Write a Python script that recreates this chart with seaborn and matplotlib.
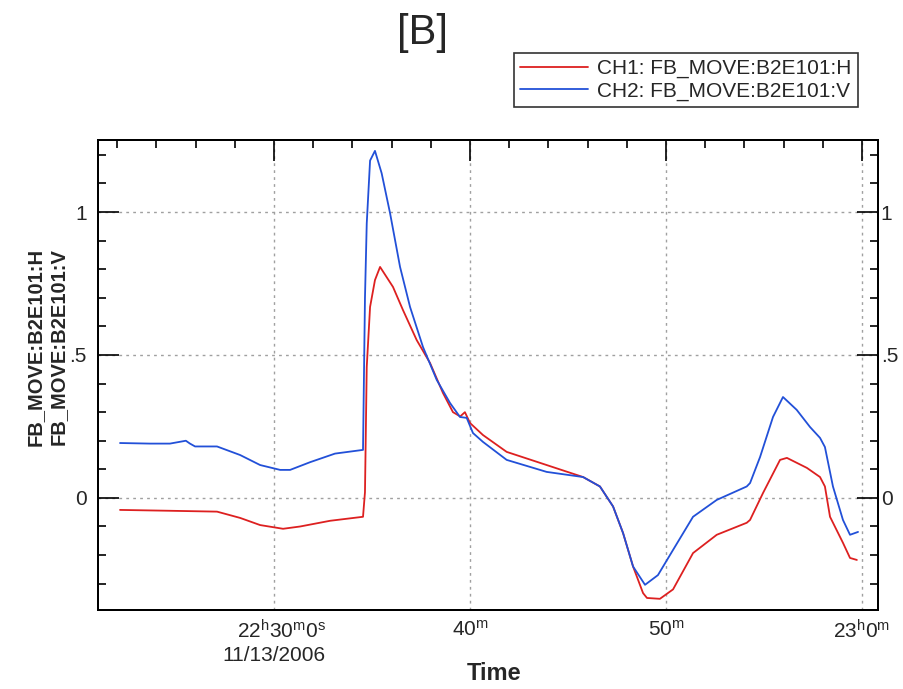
import matplotlib
matplotlib.use('Agg')
import matplotlib.pyplot as plt
import matplotlib.dates as mdates
from matplotlib.lines import Line2D
from matplotlib.ticker import FixedLocator, NullFormatter
import seaborn as sns
import pandas as pd

# minutes after 22:00 on 11/13/2006
h_minutes = [22.14, 24.69, 27.09, 28.27, 29.29, 30.46, 31.33, 32.86, 34.54, 34.64,
             34.73, 34.90, 35.15, 35.41, 36.07, 36.58, 37.28, 37.96, 38.62, 39.13,
             39.50, 39.74, 40.00, 40.66, 41.87, 43.91, 45.77, 46.63, 47.30, 47.81,
             48.32, 48.83, 49.03, 49.69, 50.36, 51.38, 52.59, 54.12, 54.29, 54.95,
             55.82, 56.17, 57.19, 57.86, 58.11, 58.37, 59.03, 59.39, 59.74]
h_values = [-0.042, -0.045, -0.048, -0.070, -0.095, -0.108, -0.100, -0.080, -0.066, 0.020,
            0.458, 0.668, 0.762, 0.808, 0.738, 0.657, 0.552, 0.472, 0.367, 0.300,
            0.285, 0.300, 0.262, 0.220, 0.161, 0.115, 0.073, 0.040, -0.030, -0.123,
            -0.240, -0.333, -0.350, -0.353, -0.320, -0.193, -0.129, -0.087, -0.077, 0.017,
            0.133, 0.140, 0.105, 0.073, 0.040, -0.066, -0.157, -0.210, -0.217]

v_minutes = [22.14, 23.67, 24.69, 25.50, 25.71, 25.97, 27.09, 28.27, 29.29, 30.31,
             30.82, 31.84, 33.11, 34.54, 34.64, 34.73, 34.90, 35.15, 35.49, 35.92,
             36.43, 36.94, 37.60, 38.30, 38.98, 39.49, 39.83, 40.15, 40.66, 41.87,
             43.91, 45.77, 46.63, 47.30, 47.81, 48.32, 48.93, 49.59, 50.36, 51.38,
             52.59, 54.12, 54.29, 54.80, 55.46, 55.97, 56.67, 57.35, 57.86, 58.11,
             58.52, 59.03, 59.39, 59.80]
v_values = [0.192, 0.190, 0.190, 0.200, 0.190, 0.180, 0.180, 0.150, 0.115, 0.098,
            0.098, 0.125, 0.155, 0.168, 0.700, 0.960, 1.180, 1.214, 1.136, 0.996,
            0.808, 0.668, 0.528, 0.413, 0.332, 0.283, 0.280, 0.227, 0.196, 0.133,
            0.091, 0.073, 0.040, -0.030, -0.123, -0.240, -0.304, -0.270, -0.182, -0.066,
            -0.007, 0.040, 0.052, 0.143, 0.283, 0.353, 0.308, 0.248, 0.210, 0.178,
            0.040, -0.077, -0.129, -0.119]

channels = ['CH1: FB_MOVE:B2E101:H', 'CH2: FB_MOVE:B2E101:V']
colors = ['#dd2020', '#2250d8']
x_major = ['22:30', '22:40', '22:50', '23:00']
x_labels = ['22$^h$30$^m$0$^s$\n11/13/2006', '40$^m$', '50$^m$', '23$^h$0$^m$']
y_major = [0, 0.5, 1]
y_labels = ['0', '.5', '1']
y_minor = [-0.3, -0.2, -0.1, 0.1, 0.2, 0.3, 0.4, 0.6, 0.7, 0.8, 0.9, 1.1, 1.2]

day = '2006-11-13 '
base = pd.Timestamp(day + '22:00:00')
df = pd.concat([
    pd.DataFrame({'time': base + pd.to_timedelta(h_minutes, unit='m'),
                  'value': h_values, 'channel': channels[0]}),
    pd.DataFrame({'time': base + pd.to_timedelta(v_minutes, unit='m'),
                  'value': v_values, 'channel': channels[1]}),
])

sns.set_style('white')
font = ['Liberation Sans', 'DejaVu Sans']
plt.rcParams['font.family'] = font
plt.rcParams['mathtext.fontset'] = 'custom'
plt.rcParams['mathtext.rm'] = 'Liberation Sans'
plt.rcParams['mathtext.it'] = 'Liberation Sans'
plt.rcParams['mathtext.default'] = 'regular'

fig = plt.figure(figsize=(9.04, 6.89), dpi=100)
ax = fig.add_axes([0.1084, 0.1147, 0.8628, 0.6821])

sns.lineplot(data=df, x='time', y='value', hue='channel', palette=colors,
             estimator=None, legend=False, linewidth=1.3, ax=ax)

ylim = (-0.392, 1.252)
ax.set_xlim(pd.Timestamp(day + '22:21:01'), pd.Timestamp(day + '23:00:49'))
ax.set_ylim(*ylim)

major_pos = [mdates.date2num(pd.Timestamp(day + t)) for t in x_major]
ax.xaxis.set_major_locator(FixedLocator(major_pos))
ax.set_xticklabels(x_labels, multialignment='right')
ax.xaxis.set_minor_locator(mdates.MinuteLocator(byminute=range(0, 60, 2)))
ax.xaxis.set_minor_formatter(NullFormatter())
ax.set_yticks(y_major)
ax.set_yticklabels(y_labels)
ax.set_yticks(y_minor, minor=True)

ax.tick_params(which='both', direction='in', top=True, right=False,
               labelsize=15, width=1.2, color='black')
ax.tick_params(which='major', length=15)
ax.tick_params(which='minor', length=6)
ax.tick_params(axis='x', which='major', pad=7)
ax.tick_params(axis='y', which='major', pad=8)

# right-hand axis repeats the y ticks, labels close to the spine
ax2 = ax.twinx()
ax2.set_ylim(*ylim)
ax2.set_yticks(y_major)
ax2.set_yticklabels(y_labels)
ax2.set_yticks(y_minor, minor=True)
ax2.tick_params(which='both', direction='in', labelsize=15, width=1.2, color='black')
ax2.tick_params(which='major', length=15, pad=2)
ax2.tick_params(which='minor', length=6)
ax2.grid(False)

ax.grid(True, which='major', linestyle=(0, (2, 3)), color='#a0a0a0', linewidth=1.0)
for a in (ax, ax2):
    for s in a.spines.values():
        s.set_visible(True)
        s.set_color('black')
        s.set_linewidth(1.4)
ax.set_xlabel('')
ax.set_ylabel('')

fig.text(423 / 904, 1 - 33 / 689, '[B]', ha='center', va='center', fontsize=30)
fig.text(494 / 904, 1 - 673 / 689, 'Time', ha='center', va='center',
         fontsize=17, fontweight='bold')
fig.text(46.5 / 904, 1 - 347 / 689, 'FB_MOVE:B2E101:H\nFB_MOVE:B2E101:V',
         rotation=90, ha='center', va='center', fontsize=14.5, fontweight='bold',
         linespacing=1.25)

handles = [Line2D([], [], color=c, linewidth=1.3) for c in colors]
leg = fig.legend(handles, channels, loc='upper right',
                 bbox_to_anchor=(858 / 904, 1 - 53 / 689),
                 prop={'size': 15}, frameon=True, fancybox=False, shadow=False,
                 handlelength=3.25, handletextpad=0.45, borderpad=0.3,
                 labelspacing=0.15, borderaxespad=0.0)
leg.get_frame().set_edgecolor('black')
leg.get_frame().set_linewidth(1.2)

fig.savefig('out.png', dpi=100, facecolor='white')
plt.close(fig)
